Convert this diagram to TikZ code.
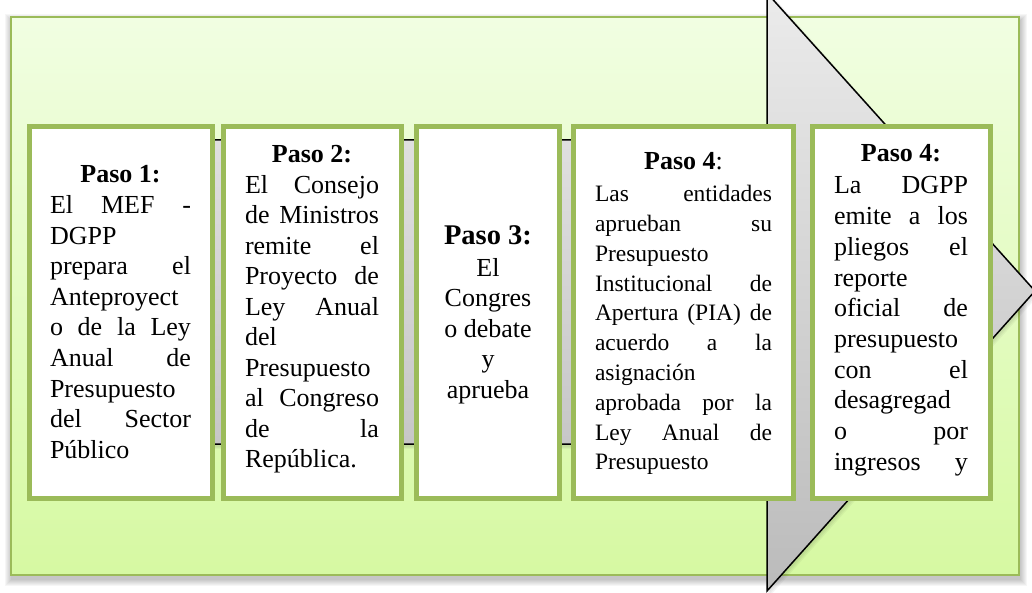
\documentclass[tikz,border=0pt]{standalone}
\usepackage{fontspec}
\setmainfont{Liberation Serif}
\definecolor{olive}{HTML}{9BBB59}
\definecolor{bgtop}{HTML}{F1FEE2}
\definecolor{bgbot}{HTML}{D6F9A2}
\definecolor{arrtop}{HTML}{EBEBEB}
\definecolor{arrbot}{HTML}{BBBBBB}
\newcommand\J[1]{\makebox[\linewidth][s]{#1}\par}
\newcommand\Lft[1]{#1\par}
\newcommand\Hd[1]{\makebox[\linewidth][c]{#1}\par}
\tikzset{
  stepbox/.style={draw=olive, line width=5pt, fill=white},
  txt/.style={anchor=base west, inner sep=0pt, outer sep=0pt},
}
\begin{document}
\begin{tikzpicture}[x=1pt,y=-1pt]
\useasboundingbox (0,0) rectangle (1032,593);
\clip (0,0) rectangle (1032,593);
% background shadow
\foreach \e in {1,2,...,7}{
  \fill[black, opacity=0.035] (11-\e+1,17-\e+4) rectangle (1019+\e+1,575+\e+4);
}
% background panel
\draw[olive, line width=2pt, top color=bgtop, bottom color=bgbot] (11,17) rectangle (1019,575);
% arrow shadow
\foreach \e in {1,2,3}{
  \fill[black, opacity=0.04] (40,140+\e+2) -- (767+\e,140+\e+2) -- (767+\e,-7) -- (1035+\e,291+\e+2) -- (767+\e,591+\e+2) -- (767+\e,444+\e+2) -- (40,444+\e+2) -- cycle;
}
% arrow
\draw[black, line width=1.5pt, line join=miter, top color=arrtop, bottom color=arrbot]
  (40,140) -- (767,140) -- (767,-7) -- (1035,291) -- (767,591) -- (767,444) -- (40,444) -- cycle;
% boxes
\draw[stepbox] (29.5,126.5) rectangle (212.5,498);
\draw[stepbox] (223.5,126.5) rectangle (401.5,498);
\draw[stepbox] (416.5,126.5) rectangle (559.5,498);
\draw[stepbox] (573.5,126.5) rectangle (793.5,498);
\draw[stepbox] (812.5,126.5) rectangle (990.5,498);
% texts
\node[txt] (t1) at (50,183) {\parbox[t]{141pt}{\fontsize{26}{30.6}\selectfont\parindent=0pt
\Hd{\textbf{Paso 1:}}
\J{El MEF -}
\Lft{DGPP}
\J{prepara el}
\Lft{Anteproyect}
\J{o de la Ley}
\J{Anual de}
\Lft{Presupuesto}
\J{del Sector}
\Lft{Público}}};
\node[txt] (t2) at (245,163) {\parbox[t]{134pt}{\fontsize{26}{30.5}\selectfont\parindent=0pt
\Hd{\textbf{Paso 2:}}
\J{El Consejo}
\J{de Ministros}
\J{remite el}
\J{Proyecto de}
\J{Ley Anual}
\Lft{del}
\Lft{Presupuesto}
\J{al Congreso}
\J{de la}
\Lft{República.}}};
\node[txt] (t3) at (438,245) {\parbox[t]{100pt}{\fontsize{26}{30.5}\selectfont\parindent=0pt\centering
{\fontsize{28.5}{30.5}\selectfont\textbf{Paso 3:}}\par\vspace{1pt}
El\par
Congres\par
o debate\par
y\par
aprueba\par}};
\node[txt] (t4) at (595,170) {\parbox[t]{177pt}{\fontsize{23.5}{29.8}\selectfont\parindent=0pt
\Hd{\fontsize{26}{29.8}\selectfont\textbf{Paso 4}:}\vspace{1.9pt}
\J{Las entidades}
\J{aprueban su}
\Lft{Presupuesto}
\J{Institucional de}
\J{Apertura (PIA) de}
\J{acuerdo a la}
\Lft{asignación}
\J{aprobada por la}
\J{Ley Anual de}
\Lft{Presupuesto}}};
\node[txt] (t5) at (834,162) {\parbox[t]{134pt}{\fontsize{26}{30.7}\selectfont\parindent=0pt
\Hd{\textbf{Paso 4:}}\vspace{1.3pt}
\J{La DGPP}
\J{emite a los}
\J{pliegos el}
\Lft{reporte}
\J{oficial de}
\Lft{presupuesto}
\J{con el}
\Lft{desagregad}
\J{o por}
\J{ingresos y}}};
\end{tikzpicture}
\end{document}
